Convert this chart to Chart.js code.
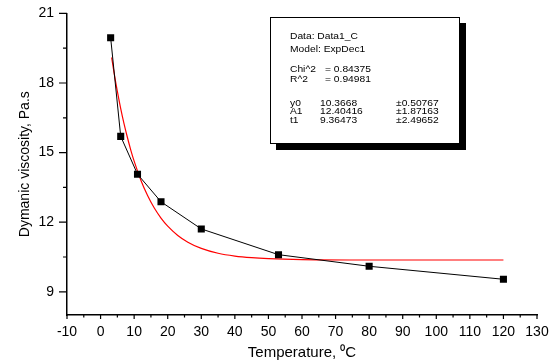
<!DOCTYPE html>
<html>
<head>
<meta charset="utf-8">
<script src="https://cdn.jsdelivr.net/npm/chart.js@4"></script>
<style>
  body { margin: 0; background: #fff; }
  #wrap { position: relative; width: 555px; height: 362px; }
  #fitbox {
    position: absolute; left: 270px; top: 17px; width: 188px; height: 125px;
    background: #fff; border: 1px solid #000; box-shadow: 6px 6px 0 #000;
    font-family: "Liberation Sans", Arial, sans-serif; font-size: 9.5px; color: #000;
  }
  #fitbox div { position: absolute; white-space: nowrap; line-height: 10px; transform: scaleX(1.08); transform-origin: left center; }
</style>
</head>
<body>
<div id="wrap">
  <canvas id="chart" width="555" height="362"></canvas>
  <div id="fitbox"></div>
</div>
<script>
// measured points (temperature, viscosity)
const tempC = [3, 6, 11, 18, 30, 53, 80, 120];
const viscosity = [19.95, 15.7, 14.07, 12.88, 11.71, 10.6, 10.1, 9.54];

// red fit curve
const fitT = [3.3, 4, 5, 6, 7, 8, 9, 10, 12, 14, 16, 18, 20, 23, 26, 30, 35, 40, 45, 50, 60, 80, 120];
const fitV = [19.1, 18.46, 17.64, 16.9, 16.24, 15.65, 15.11, 14.63, 13.81, 13.15, 12.61, 12.18, 11.83, 11.43, 11.14, 10.87, 10.66, 10.54, 10.47, 10.43, 10.39, 10.37, 10.37];

// axis ticks
const xTicks = [-10, 0, 10, 20, 30, 40, 50, 60, 70, 80, 90, 100, 110, 120, 130];
const yTicks = [9, 12, 15, 18, 21];

// fit report text
const fitHead = ["Data: Data1_C", "Model: ExpDec1"];
const fitStatNames = ["Chi^2", "R^2"];
const fitStatValues = ["= 0.84375", "= 0.94981"];
const fitParNames = ["y0", "A1", "t1"];
const fitParValues = ["10.3668", "12.40416", "9.36473"];
const fitParErrors = ["\u00b10.50767", "\u00b11.87163", "\u00b12.49652"];

const FONT = "'Liberation Sans', Arial, sans-serif";

// box with the fit results
const box = document.getElementById("fitbox");
function addText(txt, x, y) {
  const d = document.createElement("div");
  d.textContent = txt;
  d.style.left = x + "px";
  d.style.top = y + "px";
  box.appendChild(d);
}
fitHead.forEach((t, i) => addText(t, 19, 13 + i * 12.5));
fitStatNames.forEach((t, i) => {
  addText(t, 19, 46 + i * 10);
  addText(fitStatValues[i], 54, 46 + i * 10);
});
fitParNames.forEach((t, i) => {
  addText(t, 19, 80 + i * 8.4);
  addText(fitParValues[i], 49, 80 + i * 8.4);
  addText(fitParErrors[i], 125, 80 + i * 8.4);
});

// little tick marks outside the axes, major and minor
const tickMarks = {
  id: "tickMarks",
  afterDraw(chart) {
    const ctx = chart.ctx;
    const xs = chart.scales.x, ys = chart.scales.y;
    const area = chart.chartArea;
    ctx.save();
    ctx.strokeStyle = "#000";
    ctx.lineWidth = 1.2;
    ctx.beginPath();
    for (let v = xs.min; v <= xs.max; v += 5) {
      const px = xs.getPixelForValue(v);
      const len = v % 10 === 0 ? 4 : 2.5;
      ctx.moveTo(px, area.bottom);
      ctx.lineTo(px, area.bottom + len);
    }
    for (let v = 9; v <= ys.max; v += 1.5) {
      const py = ys.getPixelForValue(v);
      const len = v % 3 === 0 ? 8 : 4;
      ctx.moveTo(area.left, py);
      ctx.lineTo(area.left - len, py);
    }
    ctx.stroke();
    ctx.restore();
  }
};

new Chart(document.getElementById("chart"), {
  type: "line",
  data: {
    datasets: [
      {
        data: tempC.map((t, i) => ({ x: t, y: viscosity[i] })),
        borderColor: "#000",
        borderWidth: 1,
        pointStyle: "rect",
        pointRadius: 5,
        pointBackgroundColor: "#000",
        pointBorderWidth: 0,
        tension: 0,
        order: 1
      },
      {
        data: fitT.map((t, i) => ({ x: t, y: fitV[i] })),
        borderColor: "#ff0000",
        borderWidth: 1.2,
        pointRadius: 0,
        cubicInterpolationMode: "monotone",
        order: 2
      }
    ]
  },
  options: {
    responsive: false,
    animation: false,
    layout: { padding: { top: 8, right: 18, left: 0, bottom: 0 } },
    plugins: { legend: { display: false }, tooltip: { enabled: false } },
    scales: {
      x: {
        type: "linear",
        min: -10,
        max: 130,
        afterBuildTicks: (s) => { s.ticks = xTicks.map(v => ({ value: v })); },
        afterFit: (s) => { s.height = 47; },
        border: { display: true, color: "#000", width: 1.5 },
        grid: { display: false },
        ticks: { color: "#000", font: { family: FONT, size: 14 }, padding: 1, maxRotation: 0, autoSkip: false },
        title: { display: true, text: "Temperature, \u2070C", color: "#000", font: { family: FONT, size: 15 }, padding: { top: 0, bottom: 0 } }
      },
      y: {
        min: 8,
        max: 21,
        afterBuildTicks: (s) => { s.ticks = yTicks.map(v => ({ value: v })); },
        afterFit: (s) => { s.width = 67; },
        border: { display: true, color: "#000", width: 1.5 },
        grid: { display: false },
        ticks: { color: "#000", font: { family: FONT, size: 14 }, padding: 5 },
        title: { display: true, text: "Dymanic viscosity, Pa.s", color: "#000", font: { family: FONT, size: 14 }, padding: { top: 17, bottom: 0 } }
      }
    }
  },
  plugins: [tickMarks]
});
</script>
</body>
</html>
